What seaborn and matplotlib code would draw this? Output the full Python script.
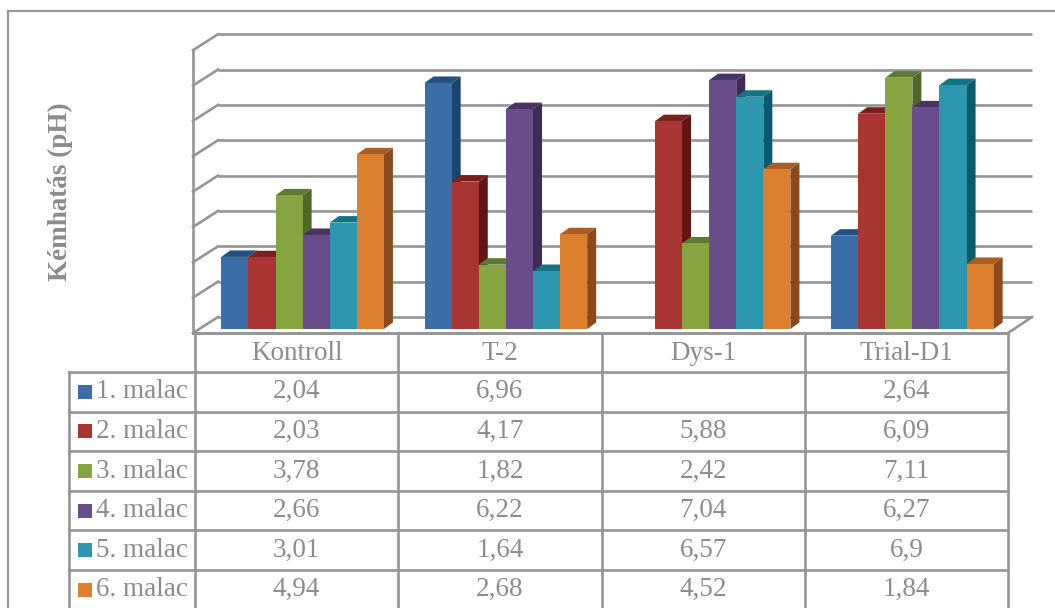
import numpy as np
import pandas as pd
import matplotlib
matplotlib.use("Agg")
import matplotlib.pyplot as plt
import seaborn as sns
from matplotlib.patches import Polygon, Rectangle

# =========================
# DATA
# =========================
categories = ["Kontroll", "T-2", "Dys-1", "Trial-D1"]
series = ["1. malac", "2. malac", "3. malac", "4. malac", "5. malac", "6. malac"]
malac1 = [2.04, 6.96, np.nan, 2.64]
malac2 = [2.03, 4.17, 5.88, 6.09]
malac3 = [3.78, 1.82, 2.42, 7.11]
malac4 = [2.66, 6.22, 7.04, 6.27]
malac5 = [3.01, 1.64, 6.57, 6.9]
malac6 = [4.94, 2.68, 4.52, 1.84]
y_label = "Kémhatás (pH)"
grid_values = list(range(0, 9))

front_colors = ["#3B6DA8", "#A93532", "#86A43F", "#6A4E8C", "#2D97AF", "#DC7F2E"]
top_colors = ["#24507F", "#7A1F1C", "#5E7A2E", "#4A3466", "#137487", "#A85E22"]
side_colors = ["#1C4470", "#621512", "#4F6726", "#3F2A58", "#0B5A6B", "#8A4A1E"]

all_values = [malac1, malac2, malac3, malac4, malac5, malac6]
rows = []
for name, vals in zip(series, all_values):
    for cat, v in zip(categories, vals):
        rows.append({"category": cat, "malac": name, "pH": v})
df = pd.DataFrame(rows)

# =========================
# LAYOUT (pixels)
# =========================
W, H = 1055, 608
PX_X = 203.25   # px per category
PX_Y = 35.35    # px per pH unit
X0 = 201        # px of x=-0.5 (bar plane)
Y0 = 329        # px of baseline (bar plane)
YMIN, YMAX = -0.4, 9.3
GRID_C = "#959595"
TEXT_C = "#8C8C8C"
LW = 1.9
FONT = "Liberation Serif"
FS = 19.5

fig = plt.figure(figsize=(W / 100, H / 100), dpi=100)
bg = fig.add_axes([0, 0, 1, 1])
bg.set_xlim(0, W)
bg.set_ylim(H, 0)
bg.axis("off")

bottom_px = Y0 - YMIN * PX_Y
ax = fig.add_axes([X0 / W, (H - bottom_px) / H, 4 * PX_X / W, (YMAX - YMIN) * PX_Y / H])
ax.patch.set_alpha(0)

# =========================
# BARS
# =========================
sns.barplot(
    data=df.dropna(), x="category", y="pH", hue="malac",
    order=categories, hue_order=series, palette=front_colors,
    width=0.8, saturation=1, errorbar=None, linewidth=0,
    legend=False, ax=ax
)
ax.set_xlim(-0.5, 3.5)
ax.set_ylim(YMIN, YMAX)
ax.axis("off")

# 3D faces for each bar
DX = 9 / PX_X
DY = 6.5 / PX_Y
bars = [p for p in ax.patches if isinstance(p, Rectangle) and np.isfinite(p.get_height())]
bars.sort(key=lambda p: p.get_x())
for k, p in enumerate(bars):
    fc = matplotlib.colors.to_hex(p.get_facecolor())
    i = [c.lower() for c in front_colors].index(fc.lower())
    x0, w, h = p.get_x(), p.get_width(), p.get_height()
    p.set_zorder(5 + 2 * k + 1)
    top = Polygon([(x0, h), (x0 + w, h), (x0 + w + DX, h + DY), (x0 + DX, h + DY)],
                  closed=True, facecolor=top_colors[i], edgecolor="none", zorder=5 + 2 * k)
    side = Polygon([(x0 + w, 0), (x0 + w + DX, DY), (x0 + w + DX, h + DY), (x0 + w, h)],
                   closed=True, facecolor=side_colors[i], edgecolor="none", zorder=5 + 2 * k)
    ax.add_patch(side)
    ax.add_patch(top)

# =========================
# WALLS / GRIDLINES
# =========================
xb_left = -0.5 + (218 - X0) / PX_X
xb_right = -0.5 + (1032 - X0) / PX_X
xf_left = -0.5 + (193 - X0) / PX_X
xf_right = xb_right - 24 / PX_X
yb = (Y0 - 317) / PX_Y
yf = (Y0 - 333) / PX_Y
for v in grid_values:
    ax.plot([xb_left, xb_right], [v + yb, v + yb], color=GRID_C, lw=LW, zorder=1,
            clip_on=False, solid_capstyle="butt")
    ax.plot([xf_left, xb_left], [v + yf, v + yb], color=GRID_C, lw=LW, zorder=1,
            clip_on=False)
ax.plot([xf_left, xf_left], [yf, grid_values[-1] + yf], color=GRID_C, lw=LW, zorder=1, clip_on=False)
ax.plot([xf_left, xf_right], [yf, yf], color=GRID_C, lw=LW, zorder=1, clip_on=False)
ax.plot([xf_right, xb_right], [yf, yb], color=GRID_C, lw=LW, zorder=1, clip_on=False)

# =========================
# DATA TABLE
# =========================
col_x = [195 + j * PX_X for j in range(len(categories) + 1)]
head_top, head_bot = 333, 372
row_h = 39.6
row_y = [head_bot + r * row_h for r in range(len(series) + 1)]
label_left = 69

for x in col_x:
    bg.plot([x, x], [head_top, H + 5], color=GRID_C, lw=LW)
bg.plot([label_left, label_left], [head_bot, H + 5], color=GRID_C, lw=LW)
bg.plot([col_x[0], col_x[-1]], [head_top, head_top], color=GRID_C, lw=LW)
for y in row_y:
    bg.plot([label_left, col_x[-1]], [y, y], color=GRID_C, lw=LW)

for j, cat in enumerate(categories):
    cx = (col_x[j] + col_x[j + 1]) / 2
    bg.text(cx, (head_top + head_bot) / 2 + 1, cat, ha="center", va="center",
            fontsize=FS, color=TEXT_C, family=FONT)

for r, (name, vals) in enumerate(zip(series, all_values)):
    cy = row_y[r] + row_h / 2
    bg.add_patch(Rectangle((78, cy - 7), 14, 14, facecolor=front_colors[r], edgecolor="none"))
    bg.text(96, cy, name, ha="left", va="center", fontsize=FS, color=TEXT_C, family=FONT)
    for j, v in enumerate(vals):
        if np.isnan(v):
            continue
        cx = (col_x[j] + col_x[j + 1]) / 2
        label = f"{v:g}".replace(".", ",")
        bg.text(cx, cy, label, ha="center", va="center", fontsize=FS, color=TEXT_C, family=FONT)

# y label
bg.text(60, 192, y_label, rotation=90, ha="center", va="center", fontsize=FS,
        fontweight="bold", color=TEXT_C, family=FONT)

# outer border
bg.plot([7.5, 7.5], [11, H + 5], color="#999999", lw=1.6)
bg.plot([7.5, W + 5], [11, 11], color="#999999", lw=1.6)

fig.savefig("out.png", dpi=100)
plt.close(fig)
